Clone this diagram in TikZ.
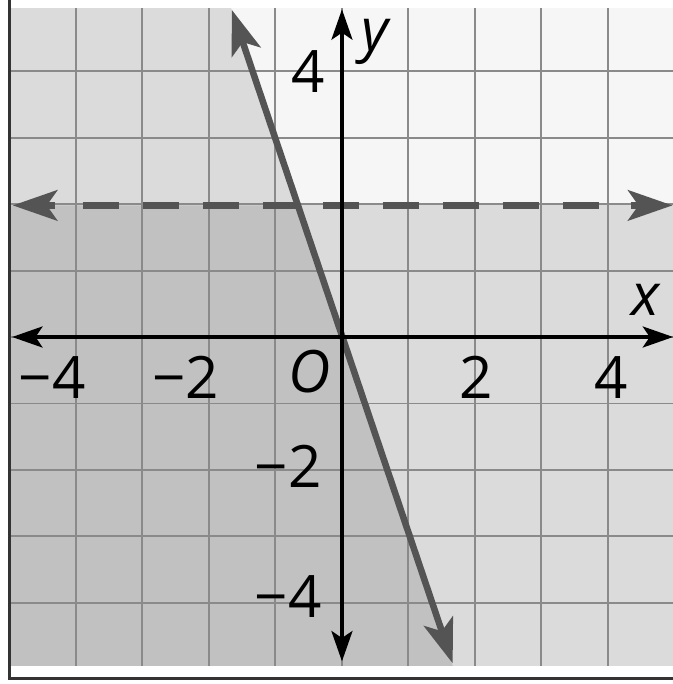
\documentclass[tikz,border=0pt]{standalone}
\usepackage{fontspec}
\setmainfont{Open Sans}
\usetikzlibrary{arrows.meta}
\definecolor{bgw}{gray}{0.965}
\definecolor{shadeA}{gray}{0.86}
\definecolor{shadeB}{gray}{0.755}
\definecolor{gridc}{gray}{0.54}
\definecolor{linec}{gray}{0.33}
\definecolor{framec}{gray}{0.2}
\begin{document}
\begin{tikzpicture}[x=1cm,y=0.9895cm,
  gridline/.style={gridc, line width=0.85pt},
  axtip/.tip={Stealth[length=13pt,width=9pt,inset=3pt]},
  grtip/.tip={Stealth[length=19pt,width=13pt,inset=4.5pt]},
  axisline/.style={black, line width=1.4pt, axtip-axtip},
  graph/.style={linec, line width=2.8pt, grtip-grtip},
  dashline/.style={linec, line width=3.2pt, dash pattern=on 0.541cm off 0.361cm},
  tiponly/.style={linec, line width=2.8pt, -grtip},
  lbl/.style={font=\fontsize{25}{30}\selectfont, inner sep=0pt, text=black}]
\useasboundingbox (-5.143,-5.274) rectangle (4.977,5.122);
\fill[white] (-5.143,-5.274) rectangle (4.977,5.122);
% shaded regions
\fill[bgw] (-5,-5) rectangle (5,5);
\fill[shadeA] (-5,5) -- (-5/3,5) -- (5/3,-5) -- (-5,-5) -- cycle;
\fill[shadeA] (-5,-5) rectangle (5,2);
\fill[shadeB] (-5,-5) -- (-5,2) -- (-2/3,2) -- (5/3,-5) -- cycle;
% grid
\draw[gridline] (-5,-5) grid (5,5);
% frame
\draw[framec, line width=1.3pt] (-5,5.2) -- (-5,-5.19) -- (5.1,-5.19);
% dashed boundary y = 2
\coordinate (dl) at (-4.95,2);
\coordinate (dr) at (4.97,2);
\coordinate (dls) at (-3.895,2);
\coordinate (drs) at (3.895,2);
\coordinate (dla) at (-4.32,2);
\coordinate (dra) at (4.34,2);
\draw[dashline] (dls) -- (drs);
\draw[tiponly] (dla) -- (dl);
\draw[tiponly] (dra) -- (dr);
% solid boundary y = -3x
\coordinate (st) at (-1.655,4.97);
\coordinate (sb) at (1.665,-4.96);
\draw[graph] (st) -- (sb);
% axes
\coordinate (xl) at (-4.96,0);
\coordinate (xr) at (4.98,0);
\coordinate (yb) at (0,-4.93);
\coordinate (yt) at (0,4.98);
\draw[axisline] (xl) -- (xr);
\draw[axisline] (yb) -- (yt);
% labels
\node[lbl] (lx) at (4.57,0.56) {\itshape x};
\node[lbl] (ly) at (0.50,4.49) {\itshape y};
\node[lbl] (lo) at (-0.48,-0.52) {\itshape O};
\node[lbl] (xm4) at (-4.36,-0.61) {−4};
\node[lbl] (xm2) at (-2.35,-0.61) {−2};
\node[lbl] (xp2) at (2.02,-0.61) {2};
\node[lbl] (xp4) at (4.05,-0.61) {4};
\node[lbl] (yp4) at (-0.51,4.04) {4};
\node[lbl] (ym2) at (-0.81,-1.96) {−2};
\node[lbl] (ym4) at (-0.81,-3.94) {−4};
\end{tikzpicture}
\end{document}
